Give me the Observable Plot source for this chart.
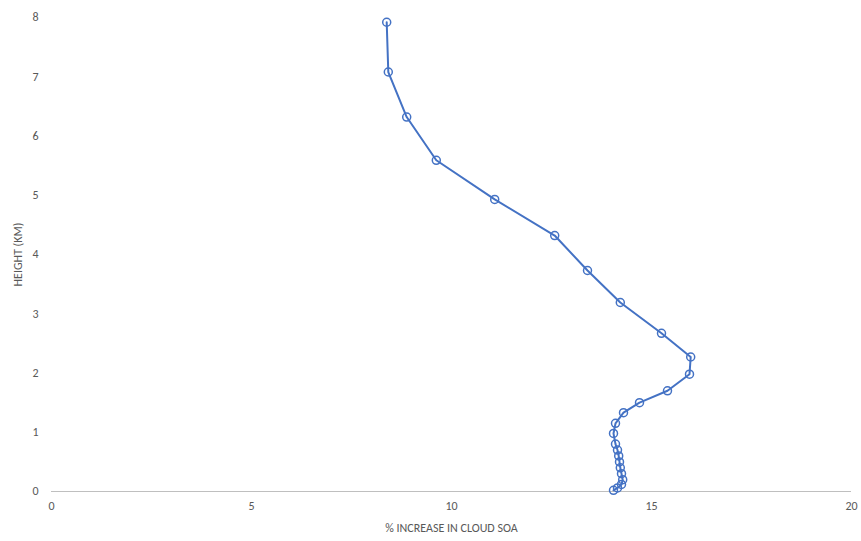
<!DOCTYPE html>
<html><head><meta charset="utf-8">
<script src="https://cdn.jsdelivr.net/npm/d3@7"></script>
<script src="https://cdn.jsdelivr.net/npm/@observablehq/plot@0.6"></script>
<style>body{margin:0;background:#fff;font-family:Calibri,"Liberation Sans",Arial,sans-serif}</style>
</head><body><div id="chart"></div>
<script>
const increase = [8.38, 8.42, 8.88, 9.62, 11.08, 12.58, 13.4, 14.22, 15.25, 15.98, 15.95, 15.4, 14.7, 14.3, 14.1, 14.05, 14.1, 14.15, 14.18, 14.2, 14.22, 14.25, 14.28, 14.25, 14.15, 14.05]
const height = [7.92, 7.08, 6.32, 5.59, 4.93, 4.32, 3.73, 3.19, 2.67, 2.27, 1.98, 1.70, 1.50, 1.33, 1.15, 0.98, 0.8, 0.7, 0.6, 0.5, 0.4, 0.3, 0.2, 0.12, 0.06, 0.02]
const data = increase.map((x, i) => ({x, y: height[i]}))

let chart = Plot.plot({
  width: 861,
  height: 541,
  marginLeft: 51,
  marginRight: 10,
  marginTop: 17,
  marginBottom: 50,
  style: {fontSize: "12px", color: "#595959", fontFamily: "Calibri, 'Liberation Sans', Arial, sans-serif"},
  x: {domain: [0, 20], ticks: [0, 5, 10, 15, 20], tickSize: 0, tickPadding: 10,
      label: "% INCREASE IN CLOUD SOA", labelAnchor: "center", labelArrow: "none", labelOffset: 40},
  y: {domain: [0, 8], ticks: d3.range(0, 9), tickSize: 0, tickPadding: 13,
      label: "HEIGHT (KM)", labelAnchor: "center", labelArrow: "none", labelOffset: 38},
  marks: [
    Plot.ruleY([0], {stroke: "#bfbfbf"}),
    Plot.line(data, {x: "x", y: "y", stroke: "#4472C4", strokeWidth: 2, sort: null}),
    Plot.dot(data, {x: "x", y: "y", stroke: "#4472C4", strokeWidth: 1.5, fill: "white", fillOpacity: 0, r: 4})
  ]
})
d3.select('#chart').append(() => chart)
</script></body></html>
